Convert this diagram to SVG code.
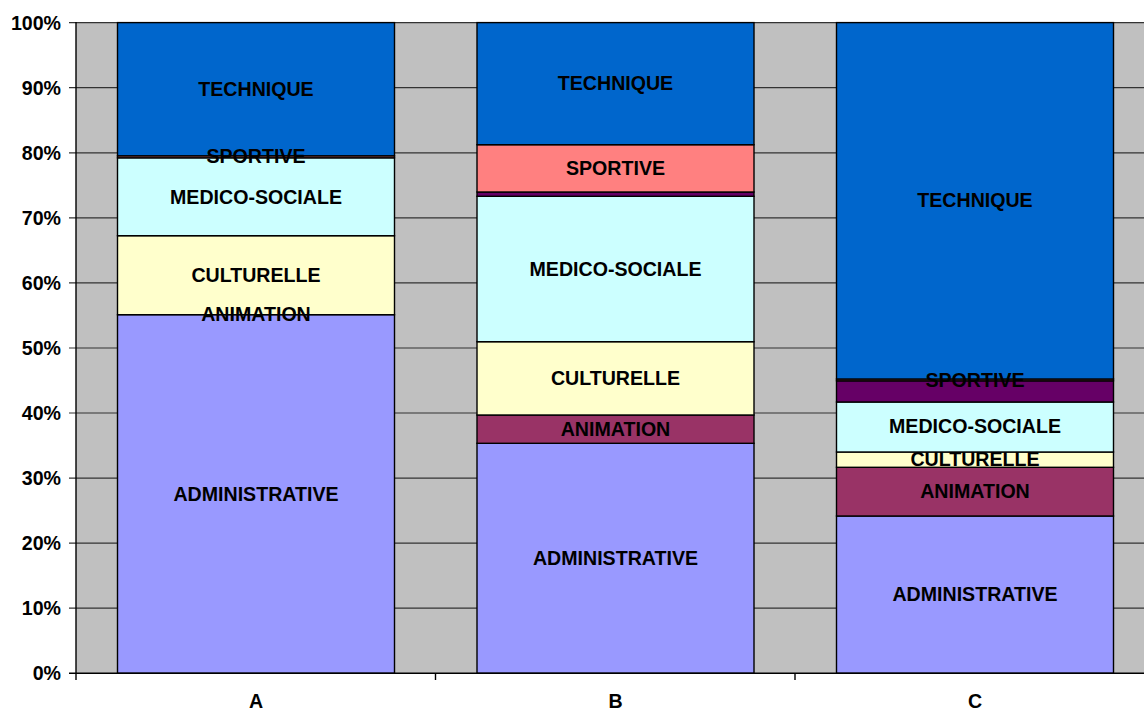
<svg xmlns="http://www.w3.org/2000/svg" width="1144" height="711" viewBox="0 0 1144 711">
<style>
text{font-family:"Liberation Sans",Arial,sans-serif;font-weight:bold;font-size:19.6px;fill:#000}
.lbl{text-anchor:middle}
.ax{text-anchor:end}
.seg{stroke:#000;stroke-width:1.4}
.grid{stroke:#333;stroke-width:1.2}
.tech{fill:#0066CC}.sport{fill:#FF8080}.purp{fill:#660066}.med{fill:#CCFFFF}.cult{fill:#FFFFCC}.anim{fill:#993366}.adm{fill:#9999FF}
</style>
<rect width="1144" height="711" fill="#fff"/>
<g id="plot">
<rect x="76" y="22.6" width="1080" height="650.7" fill="#C0C0C0"/>
<g class="grid">
<line x1="69" y1="22.6" x2="1144" y2="22.6"/>
<line x1="69" y1="87.7" x2="1144" y2="87.7"/>
<line x1="69" y1="152.8" x2="1144" y2="152.8"/>
<line x1="69" y1="217.8" x2="1144" y2="217.8"/>
<line x1="69" y1="282.9" x2="1144" y2="282.9"/>
<line x1="69" y1="348" x2="1144" y2="348"/>
<line x1="69" y1="413" x2="1144" y2="413"/>
<line x1="69" y1="478.1" x2="1144" y2="478.1"/>
<line x1="69" y1="543.2" x2="1144" y2="543.2"/>
<line x1="69" y1="608.2" x2="1144" y2="608.2"/>
</g>
</g>
<g id="axis-labels">
<text class="ax" x="61" y="29.5">100%</text>
<text class="ax" x="61" y="94.6">90%</text>
<text class="ax" x="61" y="159.7">80%</text>
<text class="ax" x="61" y="224.7">70%</text>
<text class="ax" x="61" y="289.8">60%</text>
<text class="ax" x="61" y="354.9">50%</text>
<text class="ax" x="61" y="419.9">40%</text>
<text class="ax" x="61" y="485">30%</text>
<text class="ax" x="61" y="550.1">20%</text>
<text class="ax" x="61" y="615.1">10%</text>
<text class="ax" x="61" y="680.2">0%</text>
</g>
<g id="bar-A">
<rect class="seg adm" x="117.5" y="314.7" width="277" height="358.6"/>
<rect class="seg cult" x="117.5" y="235.7" width="277" height="79"/>
<rect class="seg med" x="117.5" y="157.8" width="277" height="77.9"/>
<rect class="seg sport" x="117.5" y="155.8" width="277" height="2"/>
<rect class="seg tech" x="117.5" y="22.6" width="277" height="133.2"/>
<text class="lbl" x="256" y="96.3">TECHNIQUE</text>
<text class="lbl" x="256" y="163">SPORTIVE</text>
<text class="lbl" x="256" y="203.7">MEDICO-SOCIALE</text>
<text class="lbl" x="256" y="282.3">CULTURELLE</text>
<text class="lbl" x="256" y="321">ANIMATION</text>
<text class="lbl" x="256" y="501">ADMINISTRATIVE</text>
</g>
<g id="bar-B">
<rect class="seg adm" x="477" y="443.3" width="277" height="230"/>
<rect class="seg anim" x="477" y="415" width="277" height="28.3"/>
<rect class="seg cult" x="477" y="341.7" width="277" height="73.3"/>
<rect class="seg med" x="477" y="196.3" width="277" height="145.4"/>
<rect class="seg purp" x="477" y="192" width="277" height="4.3"/>
<rect class="seg sport" x="477" y="144.7" width="277" height="47.3"/>
<rect class="seg tech" x="477" y="22.6" width="277" height="122.1"/>
<text class="lbl" x="615.5" y="90">TECHNIQUE</text>
<text class="lbl" x="615.5" y="175.3">SPORTIVE</text>
<text class="lbl" x="615.5" y="276.3">MEDICO-SOCIALE</text>
<text class="lbl" x="615.5" y="384.7">CULTURELLE</text>
<text class="lbl" x="615.5" y="436.3">ANIMATION</text>
<text class="lbl" x="615.5" y="565">ADMINISTRATIVE</text>
</g>
<g id="bar-C">
<rect class="seg adm" x="836.5" y="516" width="277" height="157.3"/>
<rect class="seg anim" x="836.5" y="467.3" width="277" height="48.7"/>
<rect class="seg cult" x="836.5" y="452" width="277" height="15.3"/>
<rect class="seg med" x="836.5" y="402" width="277" height="50"/>
<rect class="seg purp" x="836.5" y="380.8" width="277" height="21.2"/>
<rect class="seg sport" x="836.5" y="379" width="277" height="1.8"/>
<rect class="seg tech" x="836.5" y="22.6" width="277" height="356.4"/>
<text class="lbl" x="975" y="207">TECHNIQUE</text>
<text class="lbl" x="975" y="387">SPORTIVE</text>
<text class="lbl" x="975" y="433">MEDICO-SOCIALE</text>
<text class="lbl" x="975" y="466.3">CULTURELLE</text>
<text class="lbl" x="975" y="498">ANIMATION</text>
<text class="lbl" x="975" y="601">ADMINISTRATIVE</text>
</g>
<g id="axes" stroke="#000" stroke-width="1.4">
<line x1="76" y1="22" x2="76" y2="674"/>
<line x1="69" y1="673.3" x2="1144" y2="673.3"/>
<line x1="76" y1="673.3" x2="76" y2="680"/>
<line x1="435.5" y1="673.3" x2="435.5" y2="680"/>
<line x1="795" y1="673.3" x2="795" y2="680"/>
</g>
<g id="categories">
<text class="lbl" x="256" y="708">A</text>
<text class="lbl" x="615.5" y="708">B</text>
<text class="lbl" x="975" y="708">C</text>
</g>
</svg>
